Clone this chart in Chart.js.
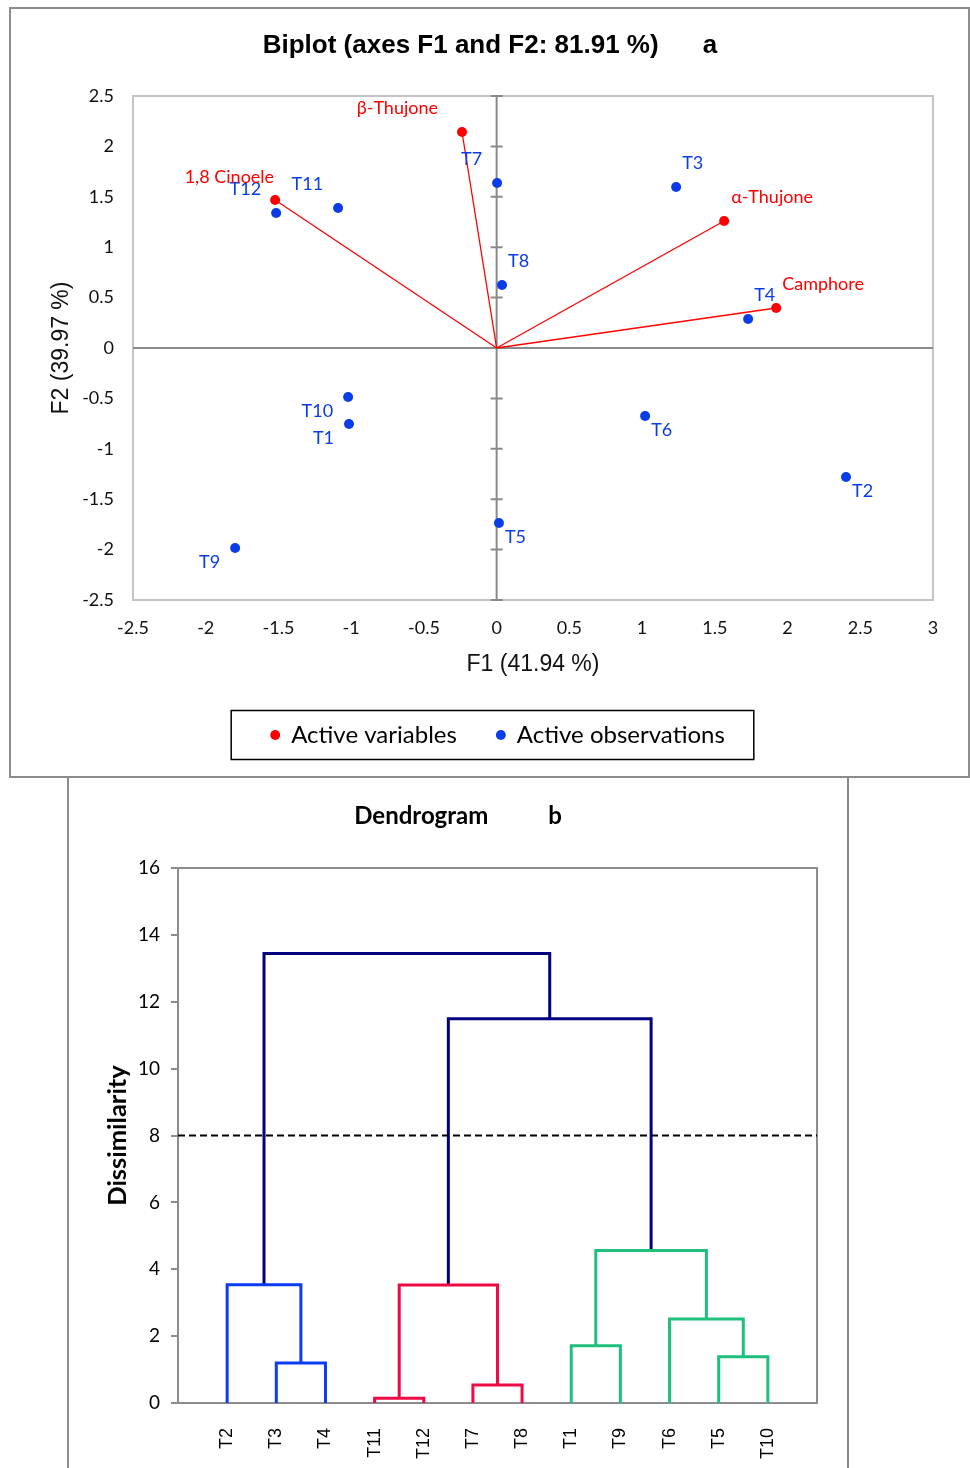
<!DOCTYPE html>
<html><head><meta charset="utf-8">
<script src="https://cdn.jsdelivr.net/npm/chart.js@4.4.1/dist/chart.umd.min.js"></script>
<style>
html,body{margin:0;padding:0;background:#fff;width:970px;height:1468px;overflow:hidden;position:relative}
.frame{position:absolute;border:2px solid #8c8c8c;box-sizing:border-box}
canvas{position:absolute}
</style></head><body>
<div class="frame" style="left:9px;top:7px;width:961px;height:771px"></div>
<div class="frame" style="left:67px;top:776px;width:782px;height:700px"></div>
<canvas id="biplot" width="960" height="768" style="left:10px;top:8px"></canvas>
<canvas id="dendro" width="780" height="690" style="left:68px;top:778px"></canvas>
<script>
// ---------- Biplot data ----------
const obsNames = ['T1','T2','T3','T4','T5','T6','T7','T8','T9','T10','T11','T12'];
const obsF1 = [-1.015, 2.402, 1.234, 1.729, 0.016, 1.021, 0.003, 0.037, -1.798, -1.021, -1.090, -1.516];
const obsF2 = [-0.754, -1.280, 1.597, 0.288, -1.736, -0.675, 1.637, 0.625, -1.984, -0.486, 1.389, 1.339];
const varNames = ['1,8 Cinoele', 'β-Thujone', 'α-Thujone', 'Camphore'];
const varF1 = [-1.523, -0.238, 1.564, 1.922];
const varF2 = [1.468, 2.143, 1.260, 0.397];
const f1Ticks = [-2.5, -2, -1.5, -1, -0.5, 0, 0.5, 1, 1.5, 2, 2.5, 3];
const f2Ticks = [-2.5, -2, -1.5, -1, -0.5, 0, 0.5, 1, 1.5, 2, 2.5];

// ---------- Dendrogram data ----------
const leafOrder = ['T2','T3','T4','T11','T12','T7','T8','T1','T9','T6','T5','T10'];
// merges (node ids: leaves 0..11, merged nodes 12..)
const mergeA = [3, 5, 1, 10, 7, 9, 0, 12, 16, 19, 18];
const mergeB = [4, 6, 2, 11, 8, 15, 14, 13, 17, 20, 21];
const mergeH = [0.14, 0.54, 1.20, 1.38, 1.71, 2.51, 3.54, 3.53, 4.56, 11.49, 13.44];
const dissimTicks = [0, 2, 4, 6, 8, 10, 12, 14, 16];
const truncationLevel = 8;

// ---------- styles ----------
const BLUE = '#0a3de8', RED = '#ff0000';
const C_BLUE = '#0a3cf0', C_RED = '#ee0a45', C_GREEN = '#1fbf7c', C_NAVY = '#000080';
const linkColors = [C_RED, C_RED, C_BLUE, C_GREEN, C_GREEN, C_GREEN, C_BLUE, C_RED, C_GREEN, C_NAVY, C_NAVY];
// label placement styles: [align, dx, dy]
const AL = ['right', -15, -24], AR = ['left', 6, -24], BL = ['right', -15, 14], BR = ['left', 6, 14];
const obsLabelStyle = [BL, BR, AR, AR, BR, BR, AL, AR, BL, BL, AL, AL];
const varLabelStyle = [['right', -1, -23], ['right', -24, -24], ['left', 7, -24], ['left', 6, -24]];
const LABEL_FONT = '18px Lato';
const numLabel = v => String(v);

// ================= Biplot =================
const biplotDecor = {
  id: 'biplotDecor',
  afterLayout(chart) {
    // nudge the legend slightly right, as in the original
    if (chart.legend) { chart.legend.left += 8; chart.legend.right += 8; }
  },
  beforeDatasetsDraw(chart) {
    const {ctx, chartArea: a, scales: {x, y}} = chart;
    ctx.save();
    ctx.strokeStyle = '#c4c4c4'; ctx.lineWidth = 2;
    ctx.strokeRect(a.left, a.top, a.right - a.left, a.bottom - a.top);
    ctx.strokeStyle = '#8a8a8a'; ctx.lineWidth = 2;
    const x0 = x.getPixelForValue(0), y0 = y.getPixelForValue(0);
    ctx.beginPath();
    ctx.moveTo(x0, a.top); ctx.lineTo(x0, a.bottom);
    ctx.moveTo(a.left, y0); ctx.lineTo(a.right, y0);
    y.ticks.forEach(t => { const py = y.getPixelForValue(t.value); ctx.moveTo(x0 - 6, py); ctx.lineTo(x0 + 6, py); });
    ctx.stroke();
    ctx.restore();
  },
  afterDatasetsDraw(chart) {
    const {ctx, scales: {x, y}} = chart;
    ctx.save();
    ctx.font = LABEL_FONT; ctx.textBaseline = 'middle';
    const put = (txt, vx, vy, st, col) => {
      ctx.fillStyle = col; ctx.textAlign = st[0];
      ctx.fillText(txt, x.getPixelForValue(vx) + st[1], y.getPixelForValue(vy) + st[2]);
    };
    obsNames.forEach((n, i) => put(n, obsF1[i], obsF2[i], obsLabelStyle[i], BLUE));
    varNames.forEach((n, i) => put(n, varF1[i], varF2[i], varLabelStyle[i], RED));
    ctx.restore();
  },
  afterDraw(chart) {
    const lg = chart.legend;
    if (!lg || !lg.legendHitBoxes || !lg.legendHitBoxes.length) return;
    const hb = lg.legendHitBoxes;
    const l = Math.min(...hb.map(h => h.left)), r = Math.max(...hb.map(h => h.left + h.width));
    const cy = hb[0].top + 12;
    const ctx = chart.ctx;
    ctx.save(); ctx.strokeStyle = '#000'; ctx.lineWidth = 1.5;
    ctx.strokeRect(l - 40, cy - 24.5, (r - l) + 69, 49);
    ctx.restore();
  }
};

const vectorSets = varNames.map((n, i) => ({
  data: [{x: 0, y: 0}, {x: varF1[i], y: varF2[i]}],
  showLine: true, borderColor: RED, borderWidth: 1.3, pointRadius: 0, pointHoverRadius: 0, order: 2, clip: false
}));

new Chart(document.getElementById('biplot'), {
  type: 'scatter',
  data: {
    datasets: [
      {label: 'Active variables', data: varF1.map((v, i) => ({x: v, y: varF2[i]})),
       backgroundColor: RED, borderColor: RED, borderWidth: 0, pointRadius: 5, pointHoverRadius: 5, order: 0},
      {label: 'Active observations', data: obsF1.map((v, i) => ({x: v, y: obsF2[i]})),
       backgroundColor: BLUE, borderColor: BLUE, borderWidth: 0, pointRadius: 5, pointHoverRadius: 5, order: 1},
      ...vectorSets
    ]
  },
  options: {
    responsive: false, animation: false, events: [],
    layout: {padding: {left: 37, right: 37, top: 0, bottom: 19}},
    plugins: {
      tooltip: {enabled: false},
      title: {display: true, text: 'Biplot (axes F1 and F2: 81.91 %)\u2003\u2002\u2009a', color: '#000',
        font: {family: 'Liberation Sans', size: 26, weight: 'bold'}, padding: {top: 22.4, bottom: 34.4}},
      legend: {position: 'bottom',
        labels: {usePointStyle: true, pointStyle: 'circle', boxWidth: 8, boxHeight: 7, padding: 40,
          color: '#000', font: {family: 'Lato', size: 24}, filter: it => !!it.text}}
    },
    scales: {
      x: {type: 'linear', min: -2.5, max: 3,
        afterBuildTicks: s => { s.ticks = f1Ticks.map(v => ({value: v})); },
        afterFit: s => { s.height = 83; },
        grid: {display: false, drawTicks: false}, border: {display: false},
        ticks: {color: '#111', font: {family: 'Lato', size: 18}, padding: 17, maxRotation: 0, callback: numLabel},
        title: {display: true, text: 'F1 (41.94 %)', color: '#111', font: {family: 'Liberation Sans', size: 23}, padding: {top: 0, bottom: 5}}},
      y: {type: 'linear', min: -2.5, max: 2.5,
        afterBuildTicks: s => { s.ticks = f2Ticks.map(v => ({value: v})); },
        afterFit: s => { s.width = 86; },
        grid: {display: false, drawTicks: false}, border: {display: false},
        ticks: {color: '#111', font: {family: 'Lato', size: 18}, padding: 19, callback: numLabel},
        title: {display: true, text: 'F2 (39.97 %)', color: '#111', font: {family: 'Liberation Sans', size: 23}, padding: {top: 1.2, bottom: 0}}}
    }
  },
  plugins: [biplotDecor]
});

// ================= Dendrogram =================
const nodeX = leafOrder.map((_, i) => i + 1);
const nodeH = leafOrder.map(() => 0);
const linkSets = mergeA.map((a, k) => {
  const b = mergeB[k], h = mergeH[k];
  const xa = nodeX[a], xb = nodeX[b];
  nodeX.push((xa + xb) / 2); nodeH.push(h);
  return {
    data: [{x: xa, y: nodeH[a]}, {x: xa, y: h}, {x: xb, y: h}, {x: xb, y: nodeH[b]}],
    showLine: true, borderColor: linkColors[k], borderWidth: 3, pointRadius: 0, pointHoverRadius: 0,
    borderJoinStyle: 'miter', borderCapStyle: 'butt', order: 1, clip: false
  };
});

const dendroDecor = {
  id: 'dendroDecor',
  beforeDatasetsDraw(chart) {
    const {ctx, chartArea: a} = chart;
    ctx.save(); ctx.strokeStyle = '#8c8c8c'; ctx.lineWidth = 2;
    ctx.beginPath(); ctx.moveTo(a.left, a.top); ctx.lineTo(a.right, a.top); ctx.lineTo(a.right, a.bottom); ctx.stroke();
    ctx.restore();
  }
};

new Chart(document.getElementById('dendro'), {
  type: 'scatter',
  data: {
    datasets: [
      {data: [{x: 0, y: truncationLevel}, {x: leafOrder.length + 1, y: truncationLevel}], showLine: true,
       borderColor: '#000', borderWidth: 2, borderDash: [7, 4], pointRadius: 0, pointHoverRadius: 0, order: 0},
      ...linkSets
    ]
  },
  options: {
    responsive: false, animation: false, events: [],
    layout: {padding: {left: 31, right: 31, top: 0, bottom: 0}},
    plugins: {
      tooltip: {enabled: false}, legend: {display: false},
      title: {display: true, text: 'Dendrogram\u2003\u2003\u2003 b', color: '#000',
        font: {family: 'Lato', size: 24, weight: 'bold'}, padding: {top: 23.6, bottom: 37.6}}
    },
    scales: {
      x: {type: 'linear', min: 0, max: leafOrder.length + 1,
        afterBuildTicks: s => { s.ticks = leafOrder.map((_, i) => ({value: i + 1})); },
        afterFit: s => { s.height = 65; },
        grid: {display: false}, border: {display: true, color: '#8c8c8c', width: 2},
        ticks: {autoSkip: false, minRotation: 90, maxRotation: 90, padding: 17, color: '#000',
          font: {family: 'Liberation Sans', size: 18}, callback: v => leafOrder[v - 1]}},
      y: {type: 'linear', min: 0, max: 16,
        afterBuildTicks: s => { s.ticks = dissimTicks.map(v => ({value: v})); },
        afterFit: s => { s.width = 79; },
        grid: {drawOnChartArea: false, drawTicks: true, tickLength: 7, color: '#8c8c8c', lineWidth: 2},
        border: {display: true, color: '#8c8c8c', width: 2},
        ticks: {padding: 11, color: '#000', font: {family: 'Lato', size: 19}, callback: numLabel},
        title: {display: true, text: 'Dissimilarity', color: '#000', font: {family: 'Lato', size: 25.5, weight: 'bold'}, padding: {top: 3.7, bottom: 0}}}
    }
  },
  plugins: [dendroDecor]
});
</script>
</body></html>
